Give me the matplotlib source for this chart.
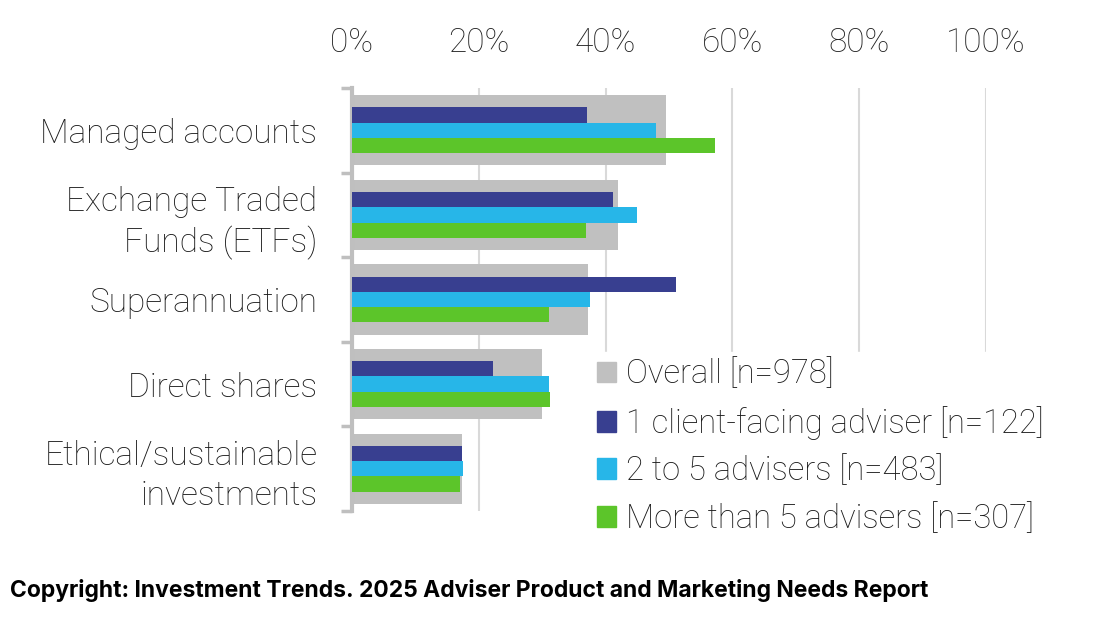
import matplotlib.pyplot as plt
import numpy as np
from matplotlib.patches import Patch

categories = ['Managed accounts', 'Exchange Traded\nFunds (ETFs)', 'Superannuation',
              'Direct shares', 'Ethical/sustainable\ninvestments']
overall = [49.5, 41.9, 37.3, 29.9, 17.4]
one_adviser = [37.1, 41.1, 51.1, 22.2, 17.3]
two_to_five = [47.9, 45.0, 37.6, 31.0, 17.5]
more_than_five = [57.3, 36.9, 31.1, 31.3, 17.1]
series_labels = ['Overall [n=978]', '1 client-facing adviser [n=122]',
                 '2 to 5 advisers [n=483]', 'More than 5 advisers [n=307]']
colors = ['#c0c0c0', '#383f90', '#27b6e8', '#5cc52a']
ticks = [0, 20, 40, 60, 80, 100]

plt.rcParams['font.family'] = ['Roboto', 'DejaVu Sans']

fig = plt.figure(figsize=(11.1, 6.26), dpi=100)
ax = fig.add_axes([352 / 1110, 1 - 511 / 626, 634 / 1110, 423 / 626])

y = np.arange(len(categories))
ax.barh(y, overall, height=0.83, color=colors[0], zorder=2)
bh = 0.18
for vals, off, c in zip([one_adviser, two_to_five, more_than_five], [-bh, 0, bh], colors[1:]):
    ax.barh(y + off, vals, height=bh, color=c, zorder=3)

ax.set_xlim(0, 100)
ax.set_ylim(4.5, -0.5)
ax.xaxis.tick_top()
ax.set_xticks(ticks)
ax.set_xticklabels([f'{t}%' for t in ticks], fontsize=24, color='#222222', fontweight='light')
ax.tick_params(axis='x', length=0, pad=21)
ax.set_yticks(y)
ax.set_yticklabels(categories, fontsize=24, color='#1a1a1a', fontweight='light', linespacing=1.3)
ax.tick_params(axis='y', which='major', length=0, pad=25)
ax.set_yticks(np.arange(-0.5, 5, 1), minor=True)
ax.tick_params(axis='y', which='minor', length=8, width=2.5, color='#bfbfbf')

ax.grid(axis='x', color='#d9d9d9', linewidth=1.5, zorder=0)
ax.set_axisbelow(True)
for s in ['top', 'right', 'bottom']:
    ax.spines[s].set_visible(False)
ax.spines['left'].set_color('#bfbfbf')
ax.spines['left'].set_linewidth(3)

handles = [Patch(color=c) for c in colors]
leg = fig.legend(handles, series_labels, loc='upper left',
                 bbox_to_anchor=(590 / 1110, 1 - 352 / 626), frameon=True,
                 fontsize=23.6, handlelength=0.6, handleheight=0.6, handletextpad=0.3,
                 labelspacing=0.47, borderpad=0.2, borderaxespad=0)
leg.get_frame().set_facecolor('white')
leg.get_frame().set_edgecolor('white')
leg.get_frame().set_alpha(1)
for t in leg.get_texts():
    t.set_fontweight('light')
    t.set_color('#1a1a1a')

fig.text(10 / 1110, 1 - 591 / 626, 'Copyright: Investment Trends. 2025 Adviser Product and Marketing Needs Report',
         fontsize=16.5, fontweight='bold', family=['Inter', 'DejaVu Sans'], va='center', ha='left')

fig.savefig('out.png', dpi=100)
